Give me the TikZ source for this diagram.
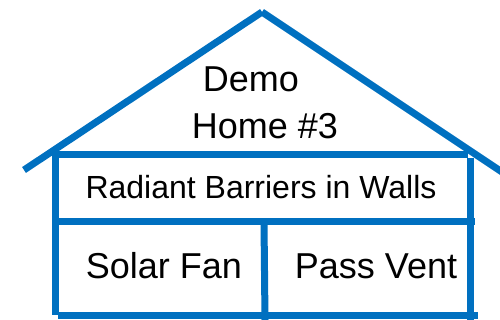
\documentclass[tikz,border=0pt]{standalone}
\usepackage{fontspec}
\setmainfont{Liberation Sans}
\definecolor{houseblue}{RGB}{0,112,192}
\begin{document}
\begin{tikzpicture}[x=1pt,y=-1pt,
  beam/.style={draw=houseblue,line width=7pt,line cap=butt},
  label/.style={anchor=base,inner sep=0pt,font=\fontsize{36}{40}\selectfont},
  smalllabel/.style={anchor=base,inner sep=0pt,font=\fontsize{32}{36}\selectfont}]
\useasboundingbox[fill=white] (0,0) rectangle (500,320);
% roof
\draw[beam] (24,170) -- (262,12);
\draw[beam] (262,12) -- (505,174);
% walls and floors
\draw[beam] (55,155) -- (468,155);
\draw[beam] (55,153) -- (55,315);
\draw[beam] (470,158) -- (470,320);
\draw[beam] (52,222) -- (475,222);
\draw[beam] (58,315) -- (478,315);
\draw[beam] (264,222) -- (265,320);
% texts
\node[label] (demo) at (251,92) {Demo};
\node[label] (home) at (265,139) {Home \#3};
\node[smalllabel] (radiant) at (261,199) {Radiant Barriers in Walls};
\node[label] (solar) at (164,278) {Solar Fan};
\node[label] (vent) at (376,278) {Pass Vent};
\end{tikzpicture}
\end{document}
